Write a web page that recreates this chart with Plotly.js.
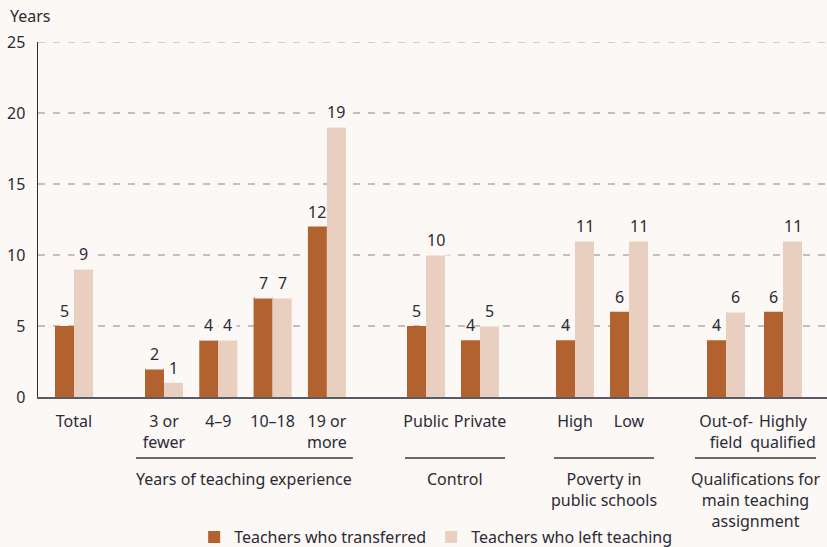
<!DOCTYPE html>
<html>
<head>
<meta charset="utf-8">
<script src="https://cdn.plot.ly/plotly-3.0.1.min.js"></script>
<style>
html,body{margin:0;padding:0;background:#fbf8f5;}
#chart{width:827px;height:547px;}
</style>
</head>
<body>
<div id="chart"></div>
<script>
// ---- data ----
const categories = ["Total", "3 or<br>fewer", "4–9", "10–18", "19 or<br>more",
  "Public", "Private", "High", "Low", "Out-of-<br>field", "Highly<br>qualified"];
const transferred = [5, 2, 4, 7, 12, 5, 4, 4, 6, 4, 6];
const leftTeaching = [9, 1, 4, 7, 19, 10, 5, 11, 11, 6, 11];
const groupLabels = ["", "Years of teaching experience", "Control",
  "Poverty in<br>public schools", "Qualifications for<br>main teaching<br>assignment"];
const groupSizes = [1, 4, 2, 2, 2];
const seriesNames = ["Teachers who transferred", "Teachers who left teaching"];
const yTicks = [0, 5, 10, 15, 20, 25];

// ---- layout constants ----
const groupStart = [36, 126, 388, 537, 688];
const groupStep = [0, 54.3, 54, 54, 57];
const linePad = [[0, 0], [28, 26], [21, 25], [21, 25], [31, 33]];
const BAR_W = 19;
const C_DARK = "#b2622f", C_LIGHT = "#e9cfc0", BG = "#fbf8f5", TXT = "#2b2b36";
const FONT = "Noto Sans, Open Sans, sans-serif";
const GRID = "#c2bfbd";

const xs = [];
const groupExt = [];
groupSizes.forEach((n, g) => {
  const a = xs.length;
  for (let i = 0; i < n; i++) xs.push(groupStart[g] + i * groupStep[g]);
  groupExt.push([xs[a], xs[xs.length - 1]]);
});

const traces = [
  {type: "bar", name: seriesNames[0], x: xs, y: transferred, width: BAR_W, offset: -BAR_W,
   marker: {color: C_DARK}, hoverinfo: "y"},
  {type: "bar", name: seriesNames[1], x: xs, y: leftTeaching, width: BAR_W, offset: 0,
   marker: {color: C_LIGHT}, hoverinfo: "y"}
];

const annotations = [];
function valueLabel(x, v, other) {
  return {x: x, y: v, xref: "x", yref: "y", text: String(v),
    showarrow: false, yanchor: "bottom", yshift: -1,
    bgcolor: v >= other ? BG : "rgba(0,0,0,0)", borderpad: 4,
    font: {family: FONT, size: 16, color: TXT}};
}
xs.forEach((x, i) => {
  annotations.push(valueLabel(x - BAR_W / 2, transferred[i], leftTeaching[i]));
  annotations.push(valueLabel(x + BAR_W / 2, leftTeaching[i], transferred[i]));
});

const shapes = [
  {type: "line", xref: "paper", yref: "y", x0: 0, x1: 1, y0: yTicks[yTicks.length - 1], y1: yTicks[yTicks.length - 1],
   line: {color: GRID, width: 1.5, dash: "7px,8px"}, layer: "below"}
];
const PH = 355; // plot height px
const py = p => (397 - p) / PH;
groupLabels.forEach((lab, g) => {
  if (!lab) return;
  const [a, b] = groupExt[g];
  const x0 = a - linePad[g][0], x1 = b + linePad[g][1];
  shapes.push({type: "line", xref: "x", yref: "paper", x0: x0, x1: x1,
    y0: py(458), y1: py(458), line: {color: "#3a3a44", width: 1.5}});
  annotations.push({x: (x0 + x1) / 2, y: py(466), xref: "x", yref: "paper", text: lab,
    showarrow: false, yanchor: "top", align: "center",
    font: {family: FONT, size: 16, color: TXT}});
});

annotations.push({x: -30 / 789, y: py(16), xref: "paper", yref: "paper", text: "Years", showarrow: false,
  xanchor: "left", yanchor: "middle", font: {family: FONT, size: 16, color: TXT}});

const layout = {
  width: 827, height: 547,
  margin: {l: 38, r: 0, t: 42, b: 150, autoexpand: false},
  paper_bgcolor: BG, plot_bgcolor: BG,
  font: {family: FONT, size: 16, color: TXT},
  showlegend: true,
  legend: {orientation: "h", x: 0.504, xanchor: "center", y: py(537), yanchor: "middle",
    font: {family: FONT, size: 16, color: TXT}, bgcolor: "rgba(0,0,0,0)"},
  xaxis: {range: [0, 789], tickvals: xs, ticktext: categories, ticks: "", tickangle: 0, showgrid: false,
    zeroline: false, showline: true, linecolor: "#5a5a64", linewidth: 2, automargin: false,
    ticklabelstandoff: 9,
    tickfont: {family: FONT, size: 16, color: TXT}, fixedrange: true},
  yaxis: {range: [0, 25], tickvals: yTicks, ticks: "", showgrid: true, gridcolor: GRID,
    griddash: "7px,8px", gridwidth: 1.5, zeroline: false, showline: true, linecolor: "#2b2b36",
    linewidth: 1.5, ticklabelstandoff: 8, automargin: false,
    tickfont: {family: FONT, size: 16, color: TXT}, fixedrange: true},
  annotations: annotations,
  shapes: shapes
};

Plotly.newPlot("chart", traces, layout, {displayModeBar: false, staticPlot: true});
</script>
</body>
</html>
